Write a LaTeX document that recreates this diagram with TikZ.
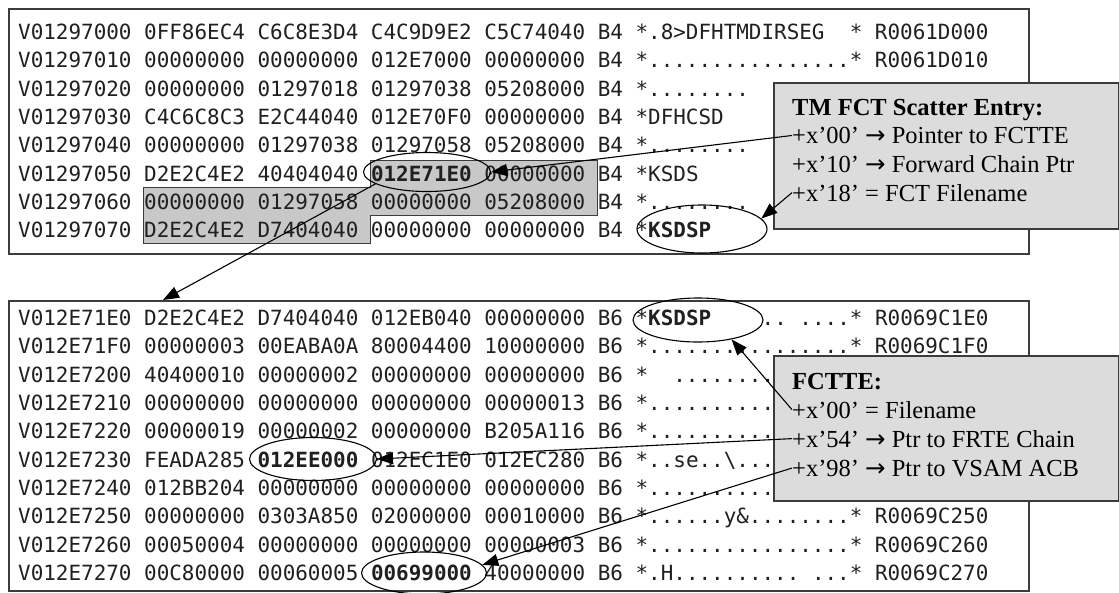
\documentclass[tikz,border=0pt]{standalone}
\usepackage{fontspec}
\setmainfont{Liberation Serif}
\newfontfamily\hexfont{DejaVu Sans Mono}
\newfontfamily\arrowfont{DejaVu Sans}
\newcommand\rarr{{\arrowfont →}}
\usetikzlibrary{arrows.meta,shapes.geometric}
\definecolor{shadegray}{HTML}{C8C8C8}
\definecolor{boxfill}{HTML}{DCDCDC}
\definecolor{edgegray}{HTML}{3C3C3C}
\definecolor{inkgray}{HTML}{202020}
\tikzset{
 hexrow/.style={anchor=base west, inner sep=0pt, text=inkgray, font=\hexfont\fontsize{20.93}{24}\selectfont\frenchspacing},
 panel/.style={draw=edgegray, line width=1.6pt, fill=white, anchor=north west, inner sep=0pt},
 ring/.style={ellipse, draw=black, line width=1.1pt, inner sep=0pt},
 callout/.style={draw=edgegray, line width=1.5pt, fill=boxfill, anchor=north west, inner sep=0pt},
 note/.style={anchor=base west, inner sep=0pt, font=\fontsize{24.5}{28}\selectfont},
 ptr/.style={draw=black, line width=1.1pt, -{Triangle[length=16pt,width=12pt]}},
}
\begin{document}
\begin{tikzpicture}[x=1pt,y=-1pt]
\useasboundingbox[fill=white] (0,0) rectangle (1119,592);
% panels
\node[panel, minimum width=1020, minimum height=245] (p1) at (8,8) {};
\node[panel, minimum width=1020, minimum height=290] (p2) at (8,300) {};
% shaded block in top panel
\fill[shadegray, draw=edgegray, line width=1pt] (370,160) -- (597,160) -- (597,215) -- (370,215) -- (370,243) -- (143,243) -- (143,187) -- (370,187) -- cycle;
% top dump rows
\node[hexrow] (t0) at (18,39.6) {V01297000 0FF86EC4 C6C8E3D4 C4C9D9E2 C5C74040 B4 *.8>DFHTMDIRSEG~~*~R0061D000};
\node[hexrow] (t1) at (18,67.9) {V01297010 00000000 00000000 012E7000 00000000 B4 *................*~R0061D010};
\node[hexrow] (t2) at (18,96.3) {V01297020 00000000 01297018 01297038 05208000 B4 *........};
\node[hexrow] (t3) at (18,124.6) {V01297030 C4C6C8C3 E2C44040 012E70F0 00000000 B4 *DFHCSD};
\node[hexrow] (t4) at (18,152.9) {V01297040 00000000 01297038 01297058 05208000 B4 *........};
\node[hexrow] (t5) at (18,181.3) {V01297050 D2E2C4E2 40404040 {\bfseries 012E71E0} 00000000 B4 *KSDS};
\node[hexrow] (t6) at (18,209.6) {V01297060 00000000 01297058 00000000 05208000 B4 *........};
\node[hexrow] (t7) at (18,237.9) {V01297070 D2E2C4E2 D7404040 00000000 00000000 B4 *{\bfseries KSDSP}};
% bottom dump rows
\node[hexrow] (u0) at (18,325.6) {V012E71E0 D2E2C4E2 D7404040 012EB040 00000000 B6 *{\bfseries KSDSP}~~~~..~....*~R0069C1E0};
\node[hexrow] (u1) at (18,353.9) {V012E71F0 00000003 00EABA0A 80004400 10000000 B6 *................*~R0069C1F0};
\node[hexrow] (u2) at (18,382.3) {V012E7200 40400010 00000002 00000000 00000000 B6 *~~........};
\node[hexrow] (u3) at (18,410.6) {V012E7210 00000000 00000000 00000000 00000013 B6 *..........};
\node[hexrow] (u4) at (18,438.9) {V012E7220 00000019 00000002 00000000 B205A116 B6 *..........};
\node[hexrow] (u5) at (18,467.3) {V012E7230 FEADA285 {\bfseries 012EE000} 012EC1E0 012EC280 B6 *..se..\textbackslash...};
\node[hexrow] (u6) at (18,495.6) {V012E7240 012BB204 00000000 00000000 00000000 B6 *..........};
\node[hexrow] (u7) at (18,523.9) {V012E7250 00000000 0303A850 02000000 00010000 B6 *......y\&........*~R0069C250};
\node[hexrow] (u8) at (18,552.3) {V012E7260 00050004 00000000 00000000 00000003 B6 *................*~R0069C260};
\node[hexrow] (u9) at (18,580.6) {V012E7270 00C80000 00060005 {\bfseries 00699000} 40000000 B6 *.H..........~...*~R0069C270};
% ellipses
\node[ring, minimum width=127, minimum height=39] (e1) at (427,172) {};
\node[ring, minimum width=130, minimum height=48] (e2) at (702,229) {};
\node[ring, minimum width=130, minimum height=44] (e3) at (698,320) {};
\node[ring, minimum width=127, minimum height=43] (e4) at (313,459) {};
\node[ring, minimum width=125, minimum height=42] (e5) at (424,573) {};
% callouts
\node[callout, minimum width=345, minimum height=146] (c1) at (773,82) {};
\node[note] (n1) at (792,115) {\textbf{TM FCT Scatter Entry:}};
\node[note] (n2) at (792,143.5) {+x’00’ \rarr{} Pointer to FCTTE};
\node[note] (n3) at (792,172) {+x’10’ \rarr{} Forward Chain Ptr};
\node[note] (n4) at (792,201) {+x’18’ = FCT Filename};
\node[callout, minimum width=345, minimum height=145] (c2) at (773,355) {};
\node[note] (m1) at (792,389.5) {\textbf{FCTTE:}};
\node[note] (m2) at (792,418) {+x’00’ = Filename};
\node[note] (m3) at (792,447) {+x’54’ \rarr{} Ptr to FRTE Chain};
\node[note] (m4) at (792,476) {+x’98’ \rarr{} Ptr to VSAM ACB};
% connectors
\coordinate (kd) at (163,300);
\draw[ptr] (n2.west) -- (e1.east);
\draw[ptr] (n4.west) -- (e2.10);
\draw[ptr] (e1.193) -- (kd);
\draw[ptr] (m2.west) -- (e3.330);
\draw[ptr] (m3.west) -- (e4.east);
\draw[ptr] (m4.west) -- (e5.8);
\end{tikzpicture}
\end{document}
